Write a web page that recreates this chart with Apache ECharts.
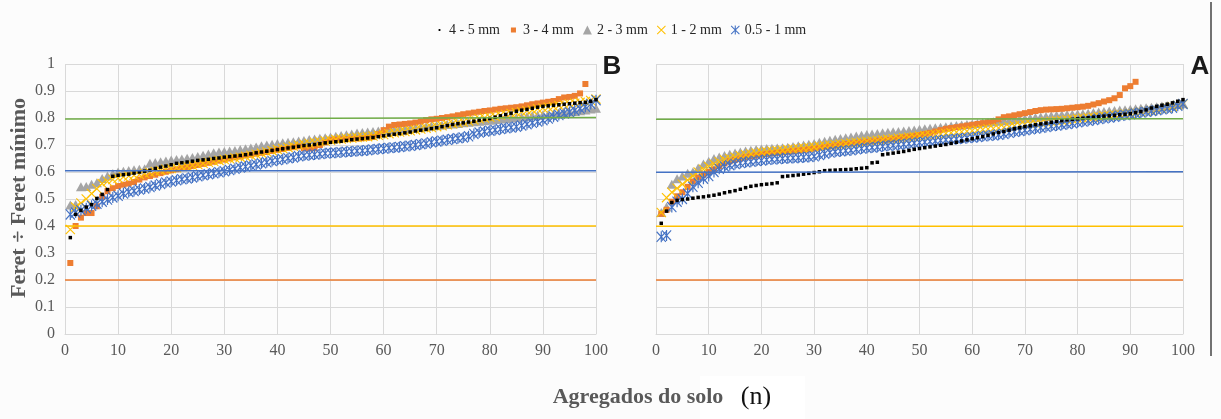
<!DOCTYPE html>
<html>
<head>
<meta charset="utf-8">
<script src="https://cdn.jsdelivr.net/npm/echarts@6/dist/echarts.min.js"></script>
<style>
  html, body { margin: 0; padding: 0; background: #fcfcfc; }
  #chart { width: 1221px; height: 419px; }
</style>
</head>
<body>
<div id="chart"></div>
<script>
// legend names, in legend order
var seriesNames = ['4 - 5 mm', '3 - 4 mm', '2 - 3 mm', '1 - 2 mm', '0.5 - 1 mm'];
var xTicks = [0, 10, 20, 30, 40, 50, 60, 70, 80, 90, 100];

// panel B (left)
var b45 = [0.357, 0.443, 0.458, 0.47, 0.479, 0.502, 0.517, 0.535, 0.584, 0.588,
  0.59, 0.592, 0.596, 0.6, 0.603, 0.607, 0.613, 0.618, 0.622, 0.627,
  0.632, 0.634, 0.637, 0.64, 0.643, 0.645, 0.647, 0.65, 0.652, 0.655,
  0.657, 0.659, 0.661, 0.664, 0.667, 0.671, 0.674, 0.677, 0.68, 0.683,
  0.686, 0.689, 0.692, 0.695, 0.698, 0.7, 0.702, 0.705, 0.708, 0.71,
  0.712, 0.714, 0.717, 0.72, 0.722, 0.724, 0.726, 0.728, 0.731, 0.734,
  0.737, 0.74, 0.742, 0.745, 0.748, 0.752, 0.755, 0.758, 0.761, 0.764,
  0.768, 0.772, 0.776, 0.779, 0.782, 0.785, 0.788, 0.792, 0.795, 0.798,
  0.803, 0.808, 0.813, 0.818, 0.825, 0.829, 0.832, 0.836, 0.84, 0.843,
  0.845, 0.847, 0.849, 0.851, 0.853, 0.855, 0.857, 0.858, 0.862, 0.868];
var b34 = [0.263, 0.4, 0.431, 0.448, 0.448, 0.473, 0.508, 0.529, 0.54, 0.548,
  0.553, 0.557, 0.563, 0.572, 0.58, 0.585, 0.59, 0.596, 0.601, 0.606,
  0.61, 0.614, 0.618, 0.622, 0.626, 0.63, 0.634, 0.638, 0.642, 0.646,
  0.65, 0.654, 0.657, 0.661, 0.664, 0.668, 0.671, 0.674, 0.678, 0.682,
  0.685, 0.689, 0.692, 0.695, 0.688, 0.687, 0.688, 0.7, 0.71, 0.718,
  0.72, 0.721, 0.722, 0.723, 0.724, 0.725, 0.727, 0.73, 0.74, 0.755,
  0.768, 0.774, 0.776, 0.778, 0.78, 0.783, 0.787, 0.792, 0.795, 0.797,
  0.8, 0.803, 0.806, 0.81, 0.814, 0.817, 0.82, 0.823, 0.826, 0.828,
  0.831, 0.834, 0.836, 0.838, 0.84, 0.843, 0.847, 0.851, 0.854, 0.857,
  0.86, 0.863, 0.87, 0.876, 0.878, 0.882, 0.891, 0.926];
var b23 = [0.478, 0.48, 0.545, 0.546, 0.555, 0.56, 0.576, 0.585, 0.594, 0.6,
  0.603, 0.606, 0.608, 0.61, 0.612, 0.632, 0.635, 0.638, 0.641, 0.644,
  0.646, 0.648, 0.651, 0.654, 0.657, 0.662, 0.667, 0.671, 0.674, 0.676,
  0.678, 0.68, 0.683, 0.686, 0.689, 0.693, 0.697, 0.7, 0.703, 0.706,
  0.708, 0.71, 0.712, 0.715, 0.717, 0.72, 0.722, 0.725, 0.727, 0.73,
  0.732, 0.735, 0.738, 0.741, 0.744, 0.746, 0.748, 0.75, 0.752, 0.754,
  0.756, 0.758, 0.76, 0.761, 0.762, 0.764, 0.766, 0.768, 0.77, 0.772,
  0.774, 0.776, 0.778, 0.78, 0.782, 0.784, 0.786, 0.788, 0.79, 0.792,
  0.794, 0.796, 0.798, 0.8, 0.802, 0.804, 0.806, 0.808, 0.81, 0.812,
  0.814, 0.816, 0.818, 0.82, 0.822, 0.824, 0.827, 0.83, 0.833, 0.836];
var b12 = [0.387, 0.47, 0.485, 0.5, 0.52, 0.538, 0.557, 0.565, 0.572, 0.577,
  0.582, 0.585, 0.588, 0.591, 0.594, 0.598, 0.602, 0.606, 0.61, 0.613,
  0.616, 0.619, 0.622, 0.625, 0.628, 0.632, 0.636, 0.64, 0.643, 0.646,
  0.649, 0.652, 0.655, 0.658, 0.662, 0.666, 0.67, 0.674, 0.679, 0.683,
  0.687, 0.691, 0.695, 0.699, 0.703, 0.706, 0.709, 0.712, 0.715, 0.718,
  0.72, 0.722, 0.724, 0.726, 0.728, 0.73, 0.731, 0.733, 0.736, 0.739,
  0.742, 0.745, 0.748, 0.75, 0.753, 0.756, 0.759, 0.762, 0.765, 0.768,
  0.771, 0.775, 0.779, 0.782, 0.785, 0.789, 0.793, 0.797, 0.8, 0.803,
  0.806, 0.81, 0.813, 0.817, 0.82, 0.823, 0.827, 0.83, 0.834, 0.837,
  0.84, 0.843, 0.846, 0.849, 0.852, 0.855, 0.858, 0.861, 0.865, 0.87];
var b051 = [0.443, 0.45, 0.458, 0.466, 0.475, 0.482, 0.49, 0.498, 0.506, 0.512,
  0.52, 0.526, 0.53, 0.535, 0.539, 0.544, 0.55, 0.556, 0.561, 0.565,
  0.569, 0.573, 0.576, 0.58, 0.584, 0.588, 0.592, 0.595, 0.599, 0.603,
  0.607, 0.612, 0.617, 0.62, 0.624, 0.628, 0.632, 0.636, 0.641, 0.644,
  0.647, 0.651, 0.654, 0.658, 0.661, 0.663, 0.665, 0.667, 0.669, 0.67,
  0.671, 0.673, 0.675, 0.676, 0.678, 0.679, 0.681, 0.683, 0.685, 0.687,
  0.689, 0.691, 0.693, 0.695, 0.697, 0.7, 0.703, 0.706, 0.71, 0.713,
  0.716, 0.719, 0.722, 0.725, 0.728, 0.732, 0.741, 0.746, 0.75, 0.753,
  0.756, 0.759, 0.762, 0.765, 0.768, 0.772, 0.777, 0.782, 0.787, 0.792,
  0.798, 0.805, 0.811, 0.817, 0.822, 0.828, 0.835, 0.842, 0.852, 0.866];

// panel A (right)
var a45 = [0.41, 0.455, 0.487, 0.495, 0.498, 0.5, 0.503, 0.506, 0.508, 0.511,
  0.514, 0.518, 0.523, 0.527, 0.531, 0.536, 0.542, 0.547, 0.55, 0.553,
  0.555, 0.557, 0.56, 0.583, 0.585, 0.587, 0.589, 0.592, 0.595, 0.598,
  0.601, 0.605, 0.606, 0.607, 0.608, 0.609, 0.61, 0.612, 0.614, 0.616,
  0.634, 0.636, 0.664, 0.667, 0.67, 0.673, 0.676, 0.68, 0.684, 0.687,
  0.69, 0.693, 0.696, 0.699, 0.702, 0.706, 0.71, 0.715, 0.719, 0.723,
  0.727, 0.731, 0.736, 0.741, 0.746, 0.75, 0.755, 0.76, 0.764, 0.768,
  0.771, 0.775, 0.778, 0.781, 0.784, 0.787, 0.79, 0.793, 0.795, 0.797,
  0.799, 0.801, 0.803, 0.805, 0.807, 0.808, 0.81, 0.812, 0.814, 0.816,
  0.82, 0.824, 0.83, 0.837, 0.843, 0.847, 0.851, 0.856, 0.862, 0.868];
var a34 = [0.445, 0.46, 0.49, 0.51, 0.525, 0.545, 0.565, 0.58, 0.59, 0.6,
  0.61, 0.622, 0.632, 0.64, 0.645, 0.65, 0.655, 0.658, 0.661, 0.664,
  0.667, 0.669, 0.671, 0.673, 0.675, 0.677, 0.679, 0.681, 0.684, 0.687,
  0.69, 0.693, 0.696, 0.699, 0.702, 0.704, 0.706, 0.708, 0.71, 0.712,
  0.714, 0.716, 0.718, 0.72, 0.722, 0.725, 0.728, 0.731, 0.734, 0.737,
  0.741, 0.745, 0.75, 0.755, 0.76, 0.763, 0.766, 0.769, 0.772, 0.775,
  0.778, 0.781, 0.784, 0.788, 0.795, 0.803, 0.806, 0.81, 0.814, 0.818,
  0.822, 0.826, 0.829, 0.831, 0.832, 0.833, 0.834, 0.836, 0.838, 0.84,
  0.842, 0.845, 0.85, 0.855, 0.861, 0.866, 0.873, 0.885, 0.91, 0.918, 0.934];
var a23 = [0.45, 0.47, 0.555, 0.575, 0.585, 0.595, 0.6, 0.615, 0.63, 0.64,
  0.65, 0.656, 0.661, 0.666, 0.67, 0.674, 0.678, 0.681, 0.683, 0.685,
  0.687, 0.688, 0.689, 0.69, 0.692, 0.694, 0.697, 0.7, 0.703, 0.706,
  0.71, 0.714, 0.718, 0.721, 0.724, 0.727, 0.73, 0.733, 0.736, 0.739,
  0.741, 0.743, 0.745, 0.747, 0.749, 0.75, 0.752, 0.754, 0.756, 0.758,
  0.76, 0.762, 0.764, 0.766, 0.768, 0.77, 0.772, 0.774, 0.776, 0.778,
  0.78, 0.782, 0.784, 0.786, 0.788, 0.79, 0.792, 0.794, 0.796, 0.798,
  0.8, 0.802, 0.804, 0.806, 0.808, 0.81, 0.812, 0.813, 0.814, 0.815,
  0.816, 0.818, 0.82, 0.822, 0.824, 0.826, 0.828, 0.83, 0.831, 0.832,
  0.834, 0.836, 0.838, 0.84, 0.842, 0.844, 0.846, 0.848, 0.85, 0.853];
var a12 = [0.45, 0.505, 0.525, 0.54, 0.555, 0.57, 0.585, 0.6, 0.61, 0.62,
  0.63, 0.638, 0.645, 0.65, 0.655, 0.66, 0.664, 0.667, 0.67, 0.673,
  0.675, 0.677, 0.679, 0.681, 0.683, 0.685, 0.687, 0.689, 0.691, 0.693,
  0.695, 0.697, 0.699, 0.701, 0.703, 0.705, 0.707, 0.709, 0.711, 0.713,
  0.715, 0.717, 0.719, 0.721, 0.723, 0.725, 0.727, 0.729, 0.731, 0.733,
  0.735, 0.737, 0.739, 0.741, 0.743, 0.745, 0.747, 0.749, 0.751, 0.753,
  0.755, 0.757, 0.759, 0.761, 0.763, 0.765, 0.768, 0.771, 0.774, 0.777,
  0.779, 0.781, 0.783, 0.785, 0.787, 0.789, 0.791, 0.793, 0.795, 0.797,
  0.799, 0.801, 0.803, 0.805, 0.807, 0.809, 0.811, 0.813, 0.815, 0.817,
  0.819, 0.822, 0.825, 0.828, 0.831, 0.834, 0.838, 0.842, 0.847, 0.852];
var a051 = [0.36, 0.365, 0.47, 0.49, 0.5, 0.52, 0.545, 0.56, 0.575, 0.585,
  0.6, 0.612, 0.62, 0.625, 0.63, 0.633, 0.636, 0.638, 0.641, 0.643,
  0.645, 0.647, 0.648, 0.65, 0.651, 0.652, 0.653, 0.655, 0.656, 0.658,
  0.663, 0.668, 0.672, 0.675, 0.677, 0.679, 0.681, 0.684, 0.687, 0.689,
  0.691, 0.693, 0.695, 0.697, 0.699, 0.701, 0.703, 0.705, 0.707, 0.709,
  0.711, 0.713, 0.715, 0.717, 0.719, 0.72, 0.722, 0.724, 0.726, 0.728,
  0.73, 0.732, 0.734, 0.736, 0.738, 0.741, 0.745, 0.749, 0.752, 0.755,
  0.758, 0.761, 0.764, 0.767, 0.77, 0.772, 0.775, 0.778, 0.781, 0.784,
  0.787, 0.79, 0.793, 0.796, 0.799, 0.802, 0.805, 0.808, 0.811, 0.814,
  0.817, 0.82, 0.823, 0.826, 0.829, 0.832, 0.835, 0.838, 0.845, 0.852];

// horizontal reference lines (value at x=0 and at x=100)
var refStartB = [0.2, 0.4, 0.605, 0.796];
var refEndB = [0.2, 0.4, 0.605, 0.802];
var refStartA = [0.2, 0.399, 0.599, 0.795];
var refEndA = [0.2, 0.399, 0.601, 0.797];
var refColors = ['#ED7D31', '#FFC000', '#4472C4', '#70AD47'];

var crossPath = 'path://M0,0.8L0.8,0L10,9.2L9.2,10Z M9.2,0L10,0.8L0.8,10L0,9.2Z';
var starPath = 'path://M0,0.8L0.8,0L10,9.2L9.2,10Z M9.2,0L10,0.8L0.8,10L0,9.2Z M4.4,0L5.6,0L5.6,10L4.4,10Z';
// small marks centred in a 10x10 box, only for the legend
var dotIcon = 'path://M0,0L0.01,0L0.01,0.01Z M4,4L6,4L6,6L4,6Z M10,10L9.99,10L9.99,9.99Z';
var smallSquareIcon = 'path://M0,0L0.01,0L0.01,0.01Z M2.2,2.2L7.8,2.2L7.8,7.8L2.2,7.8Z M10,10L9.99,10L9.99,9.99Z';

var styles = {
  '4 - 5 mm': { symbol: 'rect', size: 3.5, color: '#000000', z: 6 },
  '3 - 4 mm': { symbol: 'rect', size: 6, color: '#ED7D31', z: 3 },
  '2 - 3 mm': { symbol: 'triangle', size: [10, 9], color: '#A5A5A5', z: 2 },
  '1 - 2 mm': { symbol: crossPath, size: 10, color: '#FFC000', z: 4 },
  '0.5 - 1 mm': { symbol: starPath, size: [10, 11], color: '#4472C4', z: 5 }
};

var serifFont = 'Liberation Serif';

function scatterSeries(name, values, idx) {
  var st = styles[name];
  return {
    name: name,
    type: 'scatter',
    xAxisIndex: idx,
    yAxisIndex: idx,
    symbol: st.symbol,
    symbolSize: st.size,
    z: st.z,
    itemStyle: { color: st.color, opacity: 1 },
    data: values.map(function (v, i) { return [i + 1, v]; })
  };
}

function refSeries(starts, ends, idx) {
  return starts.map(function (s, k) {
    return {
      type: 'line',
      xAxisIndex: idx,
      yAxisIndex: idx,
      symbol: 'none',
      silent: true,
      z: 7,
      lineStyle: { color: refColors[k], width: 1.5 },
      data: [[xTicks[0], s], [xTicks[xTicks.length - 1], ends[k]]]
    };
  });
}

function xAxisCfg(idx) {
  return {
    gridIndex: idx, type: 'value', min: 0, max: 100, interval: 10,
    axisLine: { show: true, lineStyle: { color: '#D9D9D9', width: 1 } },
    axisTick: { show: false },
    splitLine: { show: true, lineStyle: { color: '#D9D9D9', width: 1 } },
    axisLabel: { fontFamily: serifFont, fontSize: 16, color: '#595959', margin: 9 }
  };
}

function yAxisCfg(idx, showLabels) {
  return {
    gridIndex: idx, type: 'value', min: 0, max: 1, interval: 0.1,
    axisLine: { show: false },
    axisTick: { show: false },
    splitLine: { show: true, lineStyle: { color: '#D9D9D9', width: 1 } },
    axisLabel: {
      show: showLabels, fontFamily: serifFont, fontSize: 16, color: '#595959', margin: 10,
      formatter: function (v) { return String(Math.round(v * 10) / 10); }
    }
  };
}

var chart = echarts.init(document.getElementById('chart'));

var series = [];
var panelB = [b45, b34, b23, b12, b051];
var panelA = [a45, a34, a23, a12, a051];
seriesNames.forEach(function (n, k) {
  series.push(scatterSeries(n, panelB[k], 0));
  series.push(scatterSeries(n, panelA[k], 1));
});
series = series.concat(refSeries(refStartB, refEndB, 0), refSeries(refStartA, refEndA, 1));

var legendIcons = [dotIcon, smallSquareIcon];
var legendData = seriesNames.map(function (n, k) {
  return legendIcons[k] ? { name: n, icon: legendIcons[k] } : n;
});

var option = {
  backgroundColor: '#fcfcfc',
  animation: false,
  legend: {
    data: legendData,
    top: 18,
    left: 430,
    itemWidth: 9,
    itemHeight: 9,
    itemGap: 9,
    textStyle: { fontFamily: serifFont, fontSize: 14, color: '#262626' }
  },
  grid: [
    { left: 65, top: 64, width: 531, height: 270 },
    { left: 656, top: 64, width: 527, height: 270 }
  ],
  xAxis: [xAxisCfg(0), xAxisCfg(1)],
  yAxis: [yAxisCfg(0, true), yAxisCfg(1, false)],
  graphic: [
    { type: 'rect', left: 700, top: 376, shape: { width: 105, height: 43 }, style: { fill: '#ffffff' }, z: -1 },
    {
      type: 'text', x: 19, y: 198, rotation: Math.PI / 2,
      style: { text: 'Feret ÷ Feret mínimo', font: 'bold 22px "Liberation Serif"', fill: '#595959', align: 'center', verticalAlign: 'middle' }
    },
    {
      type: 'text', x: 638, y: 397,
      style: { text: 'Agregados do solo', font: 'bold 22px "Liberation Serif"', fill: '#595959', align: 'center', verticalAlign: 'middle' }
    },
    {
      type: 'text', x: 756, y: 397,
      style: { text: '(n)', font: '26px "Liberation Serif"', fill: '#111111', align: 'center', verticalAlign: 'middle' }
    },
    {
      type: 'text', x: 612, y: 67,
      style: { text: 'B', font: 'bold 26px "Liberation Sans"', fill: '#1a1a1a', align: 'center', verticalAlign: 'middle' }
    },
    {
      type: 'text', x: 1200, y: 67,
      style: { text: 'A', font: 'bold 26px "Liberation Sans"', fill: '#1a1a1a', align: 'center', verticalAlign: 'middle' }
    },
    {
      type: 'line', shape: { x1: 1211, y1: 2, x2: 1211, y2: 356 },
      style: { stroke: '#444444', lineWidth: 1.5 }
    }
  ],
  series: series
};

chart.setOption(option);
</script>
</body>
</html>
